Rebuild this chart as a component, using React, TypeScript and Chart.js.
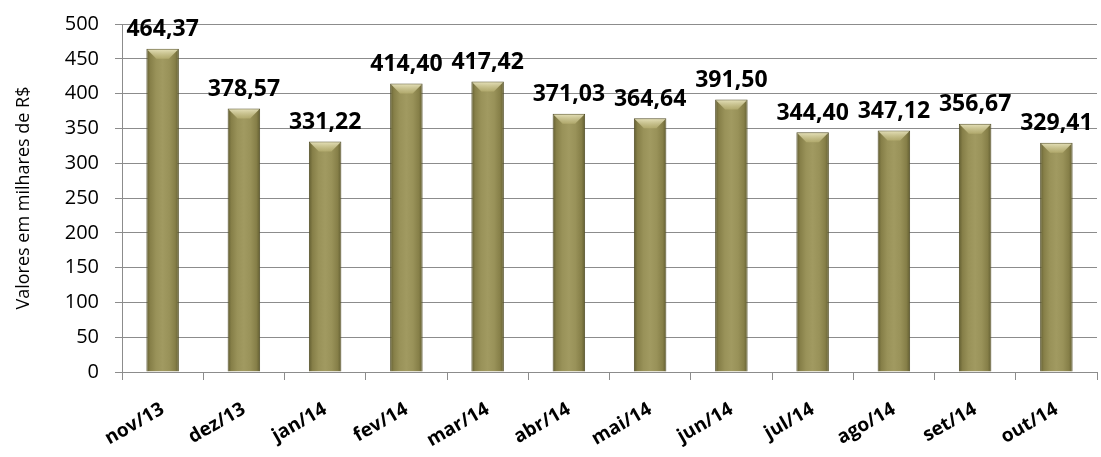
import React, { useEffect, useRef } from "react";
import { Chart, registerables } from "chart.js";

Chart.register(...registerables);

const categories = ["nov/13", "dez/13", "jan/14", "fev/14", "mar/14", "abr/14", "mai/14", "jun/14", "jul/14", "ago/14", "set/14", "out/14"];
const values = [464.37, 378.57, 331.22, 414.4, 417.42, 371.03, 364.64, 391.5, 344.4, 347.12, 356.67, 329.41];
const yTicks = [0, 50, 100, 150, 200, 250, 300, 350, 400, 450, 500];
const yTitle = "Valores em milhares de R$";

const fmt = (v: number) => v.toFixed(2).replace(".", ",");

const barLabels = {
  id: "barLabels",
  afterDatasetsDraw(chart: any) {
    const ctx = chart.ctx;
    const meta = chart.getDatasetMeta(0);
    ctx.save();
    meta.data.forEach((bar: any, i: number) => {
      const left = bar.x - bar.width / 2;
      const right = bar.x + bar.width / 2;
      const top = bar.y;
      const bev = 10;
      ctx.beginPath();
      ctx.moveTo(left + 1, top + 1);
      ctx.lineTo(right - 1, top + 1);
      ctx.lineTo(right - bev, top + bev);
      ctx.lineTo(left + bev, top + bev);
      ctx.closePath();
      const g = ctx.createLinearGradient(0, top, 0, top + bev);
      g.addColorStop(0, "rgba(240,236,200,0.9)");
      g.addColorStop(1, "rgba(190,182,120,0.6)");
      ctx.fillStyle = g;
      ctx.fill();
      ctx.fillStyle = "#000";
      ctx.font = "bold 23px 'Open Sans'";
      ctx.textAlign = "center";
      ctx.textBaseline = "middle";
      ctx.fillText(fmt(values[i]), bar.x, top - 19);
    });
    ctx.restore();
  },
};

export default function App() {
  const ref = useRef<HTMLCanvasElement>(null);
  useEffect(() => {
    document.body.style.margin = "0";
    const chart = new Chart(ref.current!, {
      type: "bar",
      data: {
        labels: categories,
        datasets: [
          {
            data: values,
            backgroundColor: (c: any) => {
              const ch = c.chart;
              const x = ch.scales?.x;
              if (!x || c.dataIndex === undefined) return "#958e55";
              const cx = x.getPixelForValue(c.dataIndex);
              if (!isFinite(cx)) return "#958e55";
              const w = 33;
              const g = ch.ctx.createLinearGradient(cx - w / 2, 0, cx + w / 2, 0);
              g.addColorStop(0, "#5f5b2f");
              g.addColorStop(0.12, "#867f48");
              g.addColorStop(0.3, "#999259");
              g.addColorStop(0.5, "#a19a61");
              g.addColorStop(0.7, "#999259");
              g.addColorStop(0.88, "#867f48");
              g.addColorStop(1, "#5f5b2f");
              return g;
            },
            borderColor: "#55512a",
            borderWidth: 1,
            barPercentage: 0.4,
            categoryPercentage: 1,
          },
        ],
      },
      options: {
        animation: false,
        responsive: false,
        maintainAspectRatio: false,
        layout: { padding: { top: 24, right: 4, left: 0, bottom: 0 } },
        plugins: { legend: { display: false }, tooltip: { enabled: false } },
        scales: {
          x: {
            afterFit: (s: any) => {
              s.height = 85;
            },
            grid: { display: true, drawOnChartArea: false, drawTicks: true, tickLength: 8, color: "#8c8c8c", offset: true },
            border: { color: "#8c8c8c" },
            ticks: {
              color: "#000",
              font: { family: "'Open Sans'", size: 19, weight: "bold" },
              minRotation: 30,
              maxRotation: 30,
              padding: 18,
            },
          },
          y: {
            min: 0,
            max: 500,
            afterBuildTicks: (s: any) => {
              s.ticks = yTicks.map((v) => ({ value: v }));
            },
            afterFit: (s: any) => {
              s.width = 122;
              s.paddingTop = 0;
            },
            grid: { color: "#8c8c8c", tickLength: 7 },
            border: { color: "#8c8c8c" },
            ticks: {
              color: "#000",
              font: { family: "'Open Sans'", size: 20 },
              padding: 16,
            },
            title: {
              display: true,
              text: yTitle,
              color: "#000",
              font: { family: "'Open Sans'", size: 18 },
              padding: { top: 13, bottom: 0 },
            },
          },
        },
      },
      plugins: [barLabels],
    });
    return () => chart.destroy();
  }, []);
  return (
    <div style={{ width: 1101, height: 457 }}>
      <canvas ref={ref} width={1101} height={457} />
    </div>
  );
}
